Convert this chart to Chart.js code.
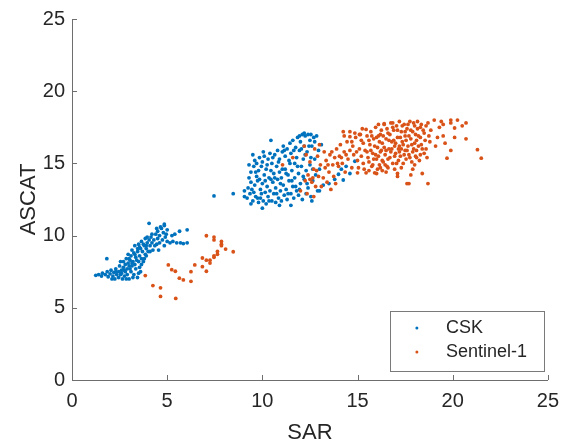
<!DOCTYPE html>
<html>
<head>
<meta charset="utf-8">
<script src="https://cdn.jsdelivr.net/npm/chart.js@4.4.0/dist/chart.umd.min.js"></script>
<style>
  html, body { margin: 0; padding: 0; background: #fff; }
  #wrap { width: 568px; height: 446px; }
</style>
</head>
<body>
<div id="wrap"><canvas id="grafico" width="568" height="446"></canvas></div>
<script>
// datos (SAR, ASCAT)
const nombres = ["CSK", "Sentinel-1"];
const colores = ["#0072BD", "#D95319"];
const ticksEjes = [0, 5, 10, 15, 20, 25];

const cskBajo = [
  [1.25,7.25],[1.4,7.3],[1.55,7.2],[1.6,7.4],[1.75,7.3],[1.85,7.5],[1.9,7.15],[2.0,7.35],[2.05,7.6],[2.15,7.2],
  [2.2,7.45],[2.25,7.0],[2.3,7.7],[2.35,7.3],[1.83,8.4],[2.45,7.1],[2.45,7.5],[2.5,7.9],[2.55,7.3],[2.55,8.2],
  [2.6,7.6],[2.65,7.0],[2.7,7.8],[2.75,7.2],[2.8,7.5],[2.8,8.0],[2.85,8.4],[2.9,7.3],[2.9,7.7],[2.95,8.1],
  [2.95,8.7],[3.0,7.0],[3.0,7.9],[3.05,8.3],[3.1,7.5],[3.1,8.6],[3.15,7.9],[3.15,9.0],[3.2,8.2],[3.25,7.3],
  [3.25,8.8],[3.3,9.3],[3.3,8.0],[3.35,7.7],[3.35,8.5],[3.44,7.1],[3.45,8.9],[3.5,8.2],[3.5,9.4],[3.55,7.8],
  [3.55,8.6],[3.6,9.1],[3.6,7.5],[3.65,9.6],[3.65,8.4],[3.7,8.9],[3.8,8.4],[3.8,9.3],[3.85,9.8],[3.85,8.7],
  [3.9,9.1],[3.95,9.5],[4.0,8.9],[4.05,9.7],[4.1,9.3],[4.15,9.9],[4.2,9.5],[4.25,9.0],[4.3,9.7],[4.4,10.1],
  [4.45,9.4],[4.5,9.8],[4.5,10.3],[4.55,9.0],[4.6,10.0],[4.7,10.5],[4.75,9.7],[4.8,10.2],[4.85,10.7],[4.85,9.3],
  [4.9,9.9],[5.0,10.4],[5.0,9.6],[5.15,9.5],[5.25,10.0],[5.3,9.6],[5.5,9.5],[5.65,10.3],[5.7,9.5],[5.85,9.45],
  [6.05,9.5],[6.05,10.4],[4.05,10.85],[4.85,10.8],[5.4,10.1],
  [2.1,7.0],[2.3,7.5],[2.6,7.4],[2.7,8.2],[2.85,7.0],[3.0,8.4],[3.05,7.7],[3.2,7.1],[3.3,8.7],[3.4,8.3],
  [3.45,9.1],[3.55,9.2],[3.65,8.0],[3.75,9.4],[3.75,8.2],[3.9,8.6],[3.95,9.9],[4.1,8.9],[4.2,10.1],[4.35,9.3],
  [4.45,10.5],[4.6,9.5],[4.65,10.6],[4.95,10.1],[3.15,8.1],[2.75,7.6],[3.5,7.4],[3.9,9.3]
];

const cskAlto = [
  [7.46,12.75],[8.47,12.9],[9.06,13.1],[9.06,12.7],[10.45,16.6],
  [9.2,12.6],[9.25,13.3],[9.3,14.0],[9.35,12.9],[9.4,13.7],[9.4,14.4],
  [9.5,12.4],[9.55,13.0],[9.55,14.8],[9.6,13.5],[9.6,15.2],[9.65,12.7],[9.7,14.1],[9.7,15.0],[9.75,13.8],[9.8,12.3],[9.8,14.5],
  [9.85,15.4],[9.9,13.2],[9.9,12.6],[9.95,14.8],[10.0,13.6],[10.0,15.1],[10.05,12.4],[10.1,14.2],[10.1,15.5],[10.15,13.0],[10.2,14.6],[10.2,12.2],
  [10.25,13.4],[10.3,15.3],[10.3,12.7],[10.35,14.0],[10.4,15.7],[10.4,13.1],[10.45,14.5],[10.5,12.4],[10.5,15.0],[10.55,13.7],[10.6,14.3],[10.6,12.9],
  [10.65,15.6],[10.7,13.3],[10.7,12.3],[10.75,14.8],[10.8,15.9],[10.8,13.9],[10.85,12.6],[10.9,14.4],[10.9,15.3],[10.95,13.1],[11.0,14.0],[11.0,12.4],
  [11.05,15.8],[11.1,13.5],[11.1,16.2],[11.15,12.8],[11.2,14.6],[11.2,15.5],[11.25,13.2],[11.3,16.0],[11.3,12.5],[11.35,14.2],[11.4,15.2],[11.4,13.8],
  [11.45,16.4],[11.5,12.9],[11.5,15.7],[11.55,14.5],[11.6,13.4],[11.6,16.6],[11.65,12.6],[11.7,15.0],[11.7,14.0],[11.75,16.1],[11.8,13.1],[11.8,15.4],
  [11.85,16.8],[11.9,14.3],[11.9,12.8],[11.95,15.9],[12.0,13.6],[12.0,16.5],[12.05,14.8],[12.1,12.5],[12.1,17.0],[12.15,15.3],[12.2,13.9],[12.2,16.2],
  [12.25,16.9],[12.3,14.5],[12.3,12.9],[12.35,15.8],[12.4,17.0],[12.4,13.3],[12.5,16.6],[12.5,14.9],[12.55,12.7],[12.6,16.2],[12.65,13.8],[12.7,16.8],
  [12.75,15.3],[12.8,14.2],[10.0,11.9],[11.5,12.1],[12.6,12.4],
  [12.9,13.1],[13.0,13.1],[13.2,13.5],[13.5,13.6],[13.8,13.9],[14.0,14.25],[14.15,14.6],[14.25,13.85],[14.4,14.8],[14.6,14.3],
  [14.86,15.15],[13.1,16.3],[12.85,16.9],[12.95,15.9],[13.0,14.6],
  [9.3,14.9],[9.45,13.2],[9.5,15.6],[9.65,14.4],[9.75,12.6],[9.85,13.9],[9.95,12.9],[10.05,15.8],[10.15,13.8],[10.25,14.9],
  [10.35,12.4],[10.45,13.9],[10.55,15.4],[10.65,14.0],[10.75,12.9],[10.85,15.1],[10.95,13.6],[11.05,14.6],[11.15,15.9],[11.25,14.3],
  [11.35,12.9],[11.45,15.0],[11.55,13.8],[11.65,15.9],[11.75,13.4],[11.85,14.8],[11.95,13.2],[12.05,16.0],[12.15,14.1],[12.25,15.6],
  [12.35,13.6],[12.45,16.2],[12.55,15.4],[12.65,14.6],[12.75,16.5],[11.95,16.9],[12.2,17.1],[12.55,17.0],[9.4,12.2],[10.9,12.1]
];

const s1Bajo = [
  [7.06,9.99],[7.46,9.9],[7.46,9.7],[7.85,9.6],[7.85,9.4],[7.85,9.3],[8.07,9.07],[8.47,8.88],[7.64,8.9],[7.64,8.7],
  [7.46,8.6],[7.46,8.5],[7.25,8.3],[7.25,8.1],[7.06,8.3],[6.85,8.45],[6.85,7.85],[7.06,7.53],[6.45,7.97],[6.25,7.5],
  [6.25,6.83],[5.85,6.93],[5.64,7.05],[5.43,7.53],[5.24,7.64],[5.06,7.97],[3.85,7.23],[4.25,6.54],[4.65,6.38],[4.65,5.79],
  [5.45,5.65]
];

const s1Alto = [
  [11.06,14.9],[11.6,15.4],[12.2,16.2],[12.3,15.6],[12.4,14.2],[12.5,15.1],[12.6,13.7],[12.7,14.6],[12.75,16.0],[12.8,13.4],
  [12.9,15.5],[12.95,14.1],[13.0,16.3],[12.25,13.8],[12.5,13.9],[12.65,14.0],[12.0,13.1],[12.35,12.9],[12.7,12.7],[13.1,13.4],
  [13.2,14.0],[13.3,14.7],[13.35,15.2],[13.4,13.7],[13.5,14.4],[13.55,15.6],[13.6,13.2],[13.7,14.9],[13.75,14.1],[13.8,15.4],
  [13.85,13.6],[13.9,16.0],[14.0,14.8],
  [14.05,15.5],[14.1,16.3],[14.2,15.0],[14.3,15.8],[14.35,14.4],[14.45,16.5],[14.5,15.3],[14.6,15.9],[14.7,14.7],[14.75,16.2],
  [14.8,15.6],[14.9,16.8],[15.0,14.35],[15.0,15.2],[15.1,16.0],[15.15,17.0],[15.2,15.5],[15.3,16.4],[15.35,14.6],[15.45,14.35],
  [15.5,15.8],[15.5,16.9],
  [15.6,15.1],[15.65,16.3],[15.7,17.2],[15.75,14.8],[15.8,15.7],[15.85,16.7],[15.9,14.35],[15.95,17.5],[16.0,15.3],[16.05,16.1],
  [16.1,16.9],[16.15,14.9],[16.2,14.7],[16.2,15.8],[16.25,17.3],[16.3,16.4],[16.35,15.1],[16.4,17.7],[16.45,15.6],[16.5,16.7],
  [16.55,14.8],[16.6,14.7],[16.6,17.1],[16.65,16.0],[16.7,15.4],[16.75,17.8],[16.8,16.5],[16.85,15.0],[16.9,17.3],[16.95,14.6],
  [16.95,16.2],
  [17.0,15.7],[17.05,17.6],[17.1,14.3],[17.1,14.1],[17.1,16.8],[17.15,15.2],[17.2,17.9],[17.2,16.2],[17.25,15.5],[17.3,17.2],
  [17.35,16.5],[17.4,15.0],[17.45,17.7],[17.5,15.9],[17.5,16.9],[17.55,15.3],[17.6,13.6],[17.6,17.4],[17.65,16.2],[17.7,13.6],
  [17.7,15.6],[17.75,17.9],[17.8,16.7],[17.85,15.1],[17.9,14.6],[17.9,17.2],[17.95,16.0],[18.0,17.6],[18.05,15.5],[18.1,15.4],
  [18.1,16.6],[18.15,17.9],[18.2,16.9],[18.3,15.6],[18.3,17.5],[18.35,16.3],[18.5,15.7],[18.5,17.1],[18.6,16.0],[18.7,13.6],
  [18.7,17.8],[18.8,16.5],
  [19.03,18.0],[19.1,16.2],[19.3,17.5],[19.5,17.7],[19.5,16.9],[19.7,15.36],[19.9,18.0],[19.9,17.8],[19.9,15.9],[20.1,17.45],
  [20.1,16.8],[20.25,18.0],[20.5,17.6],[20.7,17.8],[20.7,16.7],[21.3,15.95],[21.5,15.36],
  [14.25,17.2],[14.6,17.2],[14.6,16.85],[14.86,17.1],[15.1,17.0],[15.45,17.35],[16.1,17.7],[16.4,17.75],[16.85,17.8],
  [15.55,15.4],[15.6,16.6],[15.7,15.9],[15.75,16.9],[15.8,14.9],[15.85,15.3],[15.9,16.2],[15.95,15.6],[16.0,16.8],[16.05,14.6],
  [16.1,15.5],[16.15,16.5],[16.2,17.0],[16.25,15.9],[16.3,15.2],[16.35,16.9],[16.4,16.1],[16.45,14.9],[16.5,15.9],[16.55,17.4],
  [16.6,15.3],[16.65,16.6],[16.7,17.0],[16.75,15.8],[16.8,16.0],[16.85,17.5],[16.9,16.6],[16.95,15.5],[17.0,16.4],[17.05,15.0],
  [17.1,17.3],[17.15,16.0],[17.2,15.8],[17.25,16.8],[17.3,16.0],[17.35,17.6],[17.4,16.3],[17.45,15.6],[17.5,17.2],[17.55,16.6],
  [17.6,15.9],[17.65,17.7],[17.7,16.9],[17.75,15.4],[17.8,17.3],[17.85,16.3],[17.9,15.8],[17.95,17.8],[18.0,16.4],[18.05,17.0],
  [18.1,15.9],[18.15,17.4],[18.2,16.2],[18.25,15.2],[18.3,16.8],[18.35,17.7],[18.4,16.0],[18.45,17.3],[18.55,16.6],[18.6,17.6],
  [18.65,15.4],[18.75,16.9],[18.85,17.3],[15.2,16.6],[15.3,15.0],[15.4,15.9],[15.25,17.4],[14.95,15.8],[14.7,16.5],[14.4,15.6],
  [14.3,16.9],[14.15,15.4],[13.95,15.0],[13.65,15.8],[13.45,14.9],[13.25,15.8],[13.05,14.9],[12.85,14.5],[15.05,14.7],[15.6,14.5],
  [16.0,14.3],[16.3,14.5],[16.5,14.4],[17.3,14.7],[18.0,14.9],[18.4,14.3],[17.8,14.2],[19.2,16.8],[19.6,16.4],[19.4,17.9]
];

const colorEje = "#6e6e6e";
const colorTexto = "#262626";
const fuente = "'Liberation Sans', Arial, Helvetica, sans-serif";

function aPuntos(lista) {
  return lista.map(p => ({ x: p[0], y: p[1] }));
}

// marcas hacia adentro y leyenda dentro del area (estilo MATLAB)
const extrasMatlab = {
  id: "extrasMatlab",
  afterDraw(chart) {
    const { ctx, chartArea, scales } = chart;
    ctx.save();
    ctx.strokeStyle = colorEje;
    ctx.lineWidth = 1;
    ticksEjes.forEach(v => {
      const px = Math.round(scales.x.getPixelForValue(v)) + 0.5;
      ctx.beginPath();
      ctx.moveTo(px, chartArea.bottom);
      ctx.lineTo(px, chartArea.bottom - 5);
      ctx.stroke();
      const py = Math.round(scales.y.getPixelForValue(v)) + 0.5;
      ctx.beginPath();
      ctx.moveTo(chartArea.left, py);
      ctx.lineTo(chartArea.left + 5, py);
      ctx.stroke();
    });

    const ancho = 154, alto = 60;
    const bx = chartArea.right - 4 - ancho;
    const by = chartArea.bottom - 9 - alto;
    ctx.fillStyle = "#fff";
    ctx.fillRect(bx, by, ancho, alto);
    ctx.strokeStyle = "#7a7a7a";
    ctx.strokeRect(Math.round(bx) + 0.5, Math.round(by) + 0.5, ancho, alto);

    ctx.font = "18px " + fuente;
    ctx.textBaseline = "middle";
    nombres.forEach((n, i) => {
      const cy = by + 17 + i * 24;
      ctx.fillStyle = colores[i];
      ctx.beginPath();
      ctx.arc(bx + 27, cy, 1.5, 0, Math.PI * 2);
      ctx.fill();
      ctx.fillStyle = colorTexto;
      ctx.fillText(n, bx + 56, cy);
    });
    ctx.restore();
  }
};

function ejeConfig(titulo, esY) {
  return {
    type: "linear",
    min: 0,
    max: 25,
    afterBuildTicks: s => { s.ticks = ticksEjes.map(v => ({ value: v })); },
    afterFit: s => { if (esY) s.width = 72; else s.height = 66; },
    grid: { drawOnChartArea: false, drawTicks: false },
    border: { display: true, color: colorEje, width: 1 },
    ticks: {
      color: colorTexto,
      font: { family: fuente, size: 20 },
      padding: esY ? 7 : 9,
      maxRotation: 0
    },
    title: {
      display: true,
      text: titulo,
      color: colorTexto,
      font: { family: fuente, size: 22 },
      padding: esY ? { top: 16, bottom: 0 } : { top: 0, bottom: 0 }
    }
  };
}

const ctx = document.getElementById("grafico").getContext("2d");
new Chart(ctx, {
  type: "scatter",
  data: {
    datasets: [
      {
        label: nombres[0],
        data: aPuntos(cskBajo.concat(cskAlto)),
        backgroundColor: colores[0],
        borderWidth: 0,
        pointRadius: 1.9,
        order: 1
      },
      {
        label: nombres[1],
        data: aPuntos(s1Bajo.concat(s1Alto)),
        backgroundColor: colores[1],
        borderWidth: 0,
        pointRadius: 1.9,
        order: 0
      }
    ]
  },
  options: {
    responsive: false,
    animation: false,
    devicePixelRatio: 1,
    layout: { padding: { top: 17, right: 17, left: 0, bottom: 0 } },
    plugins: {
      legend: { display: false },
      tooltip: { enabled: false }
    },
    scales: {
      x: ejeConfig("SAR", false),
      y: ejeConfig("ASCAT", true)
    }
  },
  plugins: [extrasMatlab]
});
</script>
</body>
</html>
